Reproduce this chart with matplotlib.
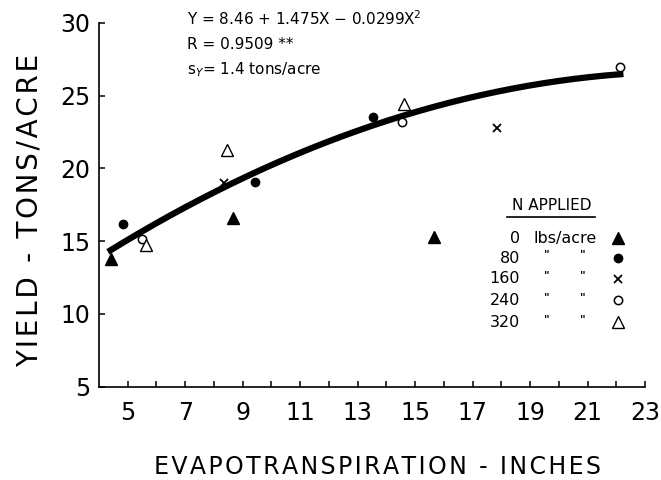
import numpy as np
import matplotlib
matplotlib.use("Agg")
import matplotlib.pyplot as plt

# data (evapotranspiration in inches, yield in tons/acre)
n0_et = [4.43, 8.67, 15.65]
n0_yield = [13.75, 16.57, 15.3]
n80_et = [4.84, 9.42, 13.54]
n80_yield = [16.15, 19.08, 23.54]
n160_et = [8.34, 17.84]
n160_yield = [18.97, 22.75]
n240_et = [5.48, 14.56, 22.13]
n240_yield = [15.12, 23.16, 26.94]
n320_et = [5.65, 8.45, 14.61]
n320_yield = [14.73, 21.26, 24.42]

# regression printed on the chart: Y = 8.46 + 1.475X - 0.0299X^2
coef = [8.46, 1.475, -0.0299]
fit_range = [4.31, 22.25]

xticks = list(range(5, 24))
xlabels = [str(t) if t % 2 == 1 else "" for t in xticks]
yticks = [5, 10, 15, 20, 25, 30]

legend_rates = ["0", "80", "160", "240", "320"]

HAIR = "\u200a"


def spaced(s, sep):
    return sep.join(s)


fig = plt.figure(figsize=(6.61, 4.80), dpi=100)
ax = fig.add_axes([99 / 661, (480 - 386.7) / 480, 546 / 661, 364 / 480])

styles = [
    dict(marker="^", color="black", ms=8, ls="none"),
    dict(marker="o", color="black", ms=6, ls="none"),
    dict(marker="x", color="black", ms=5.5, mew=1.3, ls="none"),
    dict(marker="o", mfc="white", mec="black", ms=6, mew=1.1, ls="none"),
    dict(marker="^", mfc="white", mec="black", ms=8, mew=1.0, ls="none"),
]
series = [(n0_et, n0_yield), (n80_et, n80_yield), (n160_et, n160_yield),
          (n240_et, n240_yield), (n320_et, n320_yield)]

xs = np.linspace(fit_range[0], fit_range[1], 200)
ys = coef[0] + coef[1] * xs + coef[2] * xs ** 2
ax.plot(xs, ys, color="black", lw=4.5, solid_capstyle="butt", zorder=2)

for (ex, yy), st in zip(series, styles):
    ax.plot(ex, yy, zorder=3, clip_on=False, **st)

ax.set_xlim(4, 23)
ax.set_ylim(5, 30)
ax.spines["top"].set_visible(False)
ax.spines["right"].set_visible(False)
ax.spines["left"].set_linewidth(1.2)
ax.spines["bottom"].set_linewidth(1.2)

ax.set_xticks(xticks)
ax.set_xticklabels(xlabels)
ax.set_yticks(yticks)
ax.tick_params(axis="both", direction="in", length=4, width=1.1, labelsize=17)
ax.tick_params(axis="x", pad=10)
ax.tick_params(axis="y", pad=6)

# equation block
eq_kw = dict(transform=ax.transAxes, fontsize=11, ha="left", va="center")
ax.text(0.162, 1.012, "Y = 8.46 + 1.475X \u2212 0.0299X$^2$", **eq_kw)
ax.text(0.162, 0.940, "R = 0.9509 **", **eq_kw)
ax.text(0.162, 0.871, "s$_Y$= 1.4 tons/acre", **eq_kw)

# hand-made key
ax.text(0.83, 0.499, "N APPLIED", transform=ax.transAxes, fontsize=11,
        ha="center", va="center")
ax.plot([0.747, 0.908], [0.466, 0.466], transform=ax.transAxes,
        color="black", lw=1.2, clip_on=False)
row_y = [0.408, 0.353, 0.296, 0.237, 0.177]
for i, (rate, st) in enumerate(zip(legend_rates, styles)):
    y = row_y[i]
    ax.text(0.771, y, rate, transform=ax.transAxes, fontsize=11.5,
            ha="right", va="center")
    if i == 0:
        ax.text(0.795, y, "lbs/acre", transform=ax.transAxes, fontsize=11.5,
                ha="left", va="center")
    else:
        ax.text(0.82, y + 0.01, '"', transform=ax.transAxes, fontsize=8,
                ha="center", va="center", fontweight="bold")
        ax.text(0.886, y + 0.01, '"', transform=ax.transAxes, fontsize=8,
                ha="center", va="center", fontweight="bold")
    ax.plot([0.951], [y], transform=ax.transAxes, clip_on=False, **st)

fig.text(30 / 661, (480 - 210) / 480, spaced("YIELD - TONS/ACRE", HAIR),
         rotation=90, fontsize=20, ha="center", va="center")
fig.text(378 / 661, (480 - 467) / 480,
         spaced("EVAPOTRANSPIRATION - INCHES", HAIR),
         fontsize=17, ha="center", va="center")

fig.savefig("out.png", dpi=100)
